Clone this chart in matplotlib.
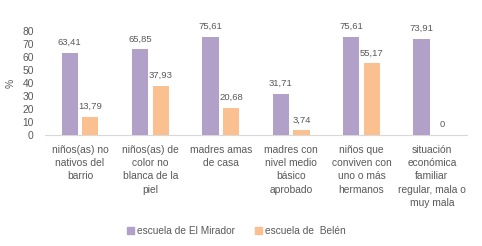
import numpy as np
import matplotlib
matplotlib.use("Agg")
import matplotlib.pyplot as plt
import matplotlib.patches as mpatches

plt.rcParams.update({"font.family": ["Liberation Sans", "DejaVu Sans"]})

categories = [
    "niños(as) no\nnativos del\nbarrio",
    "niños(as) de\ncolor no\nblanca de la\npiel",
    "madres amas\nde casa",
    "madres con\nnivel medio\nbásico\naprobado",
    "niños que\nconviven con\nuno o más\nhermanos",
    "situación\neconómica\nfamiliar\nregular, mala o\nmuy mala",
]
mirador = [63.41, 65.85, 75.61, 31.71, 75.61, 73.91]
belen = [13.79, 37.93, 20.68, 3.74, 55.17, 0]
series_names = ["escuela de El Mirador", "escuela de  Belén"]
yticks = list(range(0, 81, 10))

PURPLE = "#B1A0C7"
ORANGE = "#FAC090"
GREY = "#595959"

def fmt(v):
    return "0" if v == 0 else f"{v:.2f}".replace(".", ",")

fig = plt.figure(figsize=(4.82, 2.46), dpi=100)
ax = fig.add_axes([0.093, 0.451, 0.876, 0.423])

x = np.arange(len(categories))
w = 0.23
off = 0.147
b1 = ax.bar(x - off, mirador, w, color=PURPLE, zorder=3)
b2 = ax.bar(x + off, belen, w, color=ORANGE, zorder=3)
for bars, vals in ((b1, mirador), (b2, belen)):
    for bar, v in zip(bars, vals):
        ax.text(bar.get_x() + bar.get_width() / 2, v + 4.5, fmt(v),
                ha="center", va="bottom", fontsize=6.8, color=GREY)

ax.set_xlim(-0.5, len(categories) - 0.5)
ax.set_ylim(0, 80)
ax.set_yticks(yticks)
ax.set_xticks(x)
ax.set_xticklabels(categories, fontsize=7.4, color=GREY, linespacing=1.42, va="top")
ax.tick_params(axis="both", length=0, labelsize=7.4, labelcolor=GREY)
ax.tick_params(axis="x", pad=7)
ax.tick_params(axis="y", pad=8)
for s in ["top", "right", "left"]:
    ax.spines[s].set_visible(False)
ax.spines["bottom"].set_color("#D9D9D9")
ax.set_ylabel("%", fontsize=7.5, color=GREY, labelpad=5)

handles = [mpatches.Patch(color=PURPLE, label=series_names[0]),
           mpatches.Patch(color=ORANGE, label=series_names[1])]
fig.legend(handles=handles, loc="center", bbox_to_anchor=(0.49, 0.062), ncol=2,
           frameon=False, fontsize=7.3, handlelength=0.7, handleheight=0.7,
           handletextpad=0.3, columnspacing=2.0, labelcolor=GREY)

fig.savefig("out.png", dpi=100)
